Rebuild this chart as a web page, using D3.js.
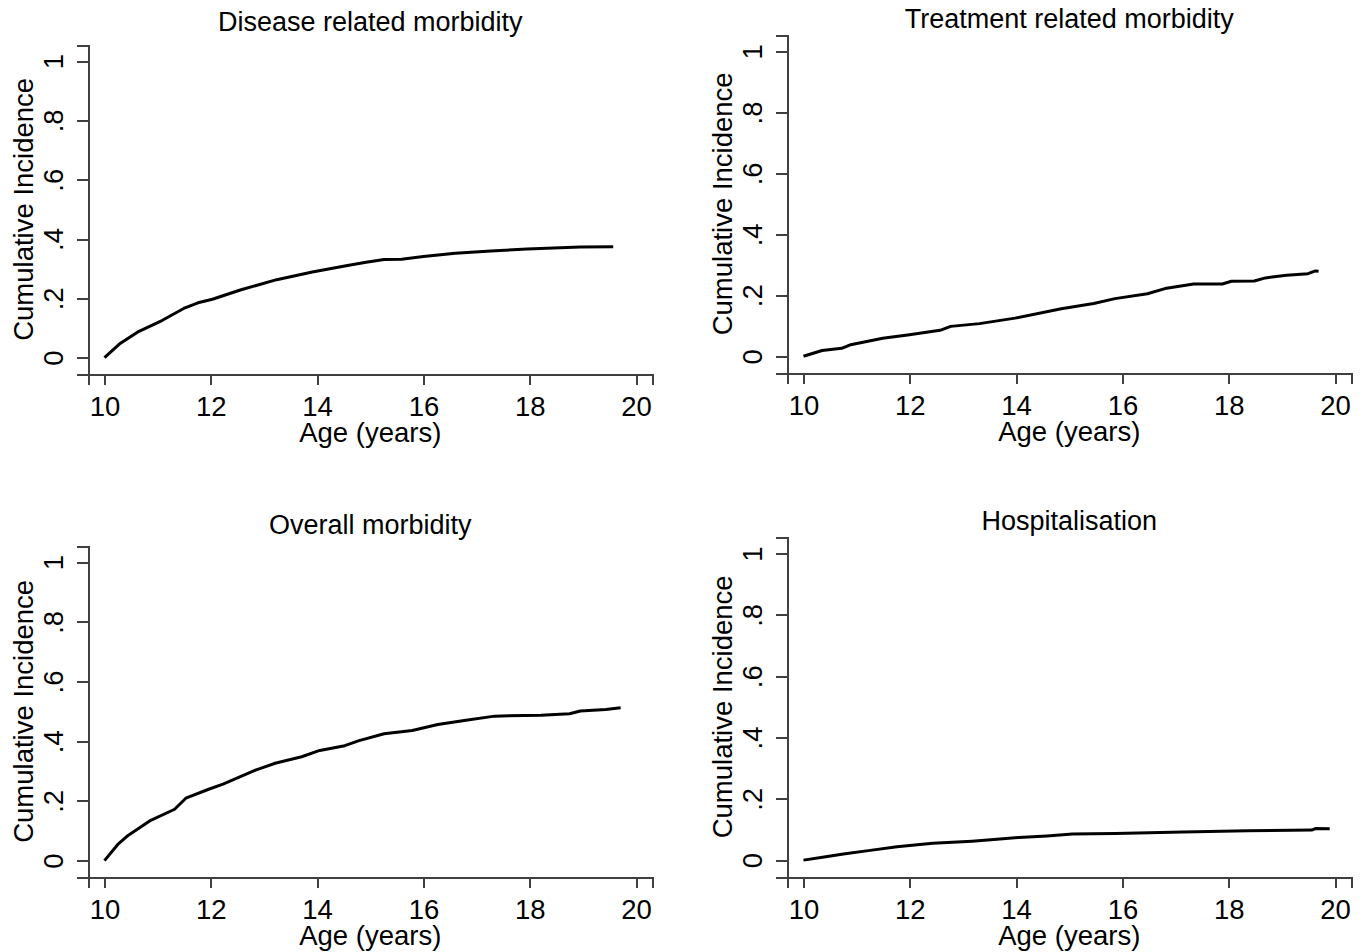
<!DOCTYPE html>
<html>
<head>
<meta charset="utf-8">
<script src="https://cdn.jsdelivr.net/npm/d3@7"></script>
<style>
  body { margin: 0; background: #fff; }
  text { font-family: "Liberation Sans", Arial, sans-serif; fill: #000; }
</style>
</head>
<body>
<div id="chart"></div>
<script>
// Panel titles
const panelTitles = ["Disease related morbidity", "Treatment related morbidity", "Overall morbidity", "Hospitalisation"];

// Axis ticks
const xTicks = [10, 12, 14, 16, 18, 20];
const yTicks = [0, 0.2, 0.4, 0.6, 0.8, 1];
const yTickLabels = ["0", ".2", ".4", ".6", ".8", "1"];

// Cumulative incidence (age in years, incidence)
const diseaseAge = [10, 10.28, 10.62, 11.09, 11.49, 11.76, 12.03, 12.57, 13.24, 13.91, 14.52, 14.92, 15.26, 15.59, 16.0, 16.6, 17.27, 17.95, 18.95, 19.57];
const diseaseCI = [0, 0.046, 0.086, 0.126, 0.166, 0.185, 0.197, 0.229, 0.263, 0.289, 0.309, 0.322, 0.331, 0.332, 0.341, 0.352, 0.36, 0.366, 0.373, 0.374];

const treatmentAge = [10, 10.35, 10.72, 10.89, 11.49, 11.96, 12.57, 12.77, 13.31, 13.98, 14.85, 15.46, 15.86, 16.47, 16.8, 17.34, 17.88, 18.05, 18.48, 18.69, 19.09, 19.49, 19.63, 19.69];
const treatmentCI = [0, 0.019, 0.026, 0.038, 0.059, 0.07, 0.085, 0.098, 0.107, 0.125, 0.156, 0.173, 0.189, 0.205, 0.222, 0.237, 0.237, 0.246, 0.247, 0.257, 0.266, 0.271, 0.28, 0.279];

const overallAge = [10, 10.25, 10.45, 10.85, 11.32, 11.53, 11.96, 12.23, 12.84, 13.21, 13.71, 14.05, 14.52, 14.79, 15.26, 15.79, 16.27, 16.8, 17.34, 18.21, 18.75, 18.95, 19.43, 19.71];
const overallCI = [0, 0.054, 0.085, 0.133, 0.172, 0.209, 0.239, 0.256, 0.303, 0.326, 0.348, 0.369, 0.385, 0.402, 0.425, 0.436, 0.456, 0.47, 0.484, 0.487, 0.492, 0.501, 0.506, 0.512];

const hospAge = [10, 10.42, 10.75, 11.22, 11.76, 12.43, 13.17, 13.64, 14.05, 14.58, 15.06, 15.86, 17.14, 18.35, 19.56, 19.63, 19.9];
const hospCI = [0, 0.011, 0.02, 0.031, 0.044, 0.055, 0.062, 0.068, 0.074, 0.079, 0.085, 0.087, 0.092, 0.096, 0.098, 0.103, 0.102];

const seriesAges = [diseaseAge, treatmentAge, overallAge, hospAge];
const seriesValues = [diseaseCI, treatmentCI, overallCI, hospCI];

// Layout: each panel's axis box in pixels, plus title baseline
const width = 1366, height = 952;
const panels = [
    { left: 88, right: 652, top: 45, bottom: 374, titleY: 31 },
    { left: 787, right: 1351, top: 35, bottom: 373, titleY: 28 },
    { left: 88, right: 652, top: 546, bottom: 877, titleY: 534 },
    { left: 787, right: 1351, top: 537, bottom: 877, titleY: 530 }
];

const fontSize = 27.5;
const axisColor = "#404040";

const svg = d3.select("#chart")
    .append("svg")
    .attr("width", width)
    .attr("height", height);

panels.forEach((p, i) => {
    // axis range is padded a little beyond the tick range, Stata style
    const xScale = d3.scaleLinear().domain([9.69, 20.3]).range([p.left, p.right]);
    const yScale = d3.scaleLinear().domain([-0.055, 1.054]).range([p.bottom, p.top]);

    const g = svg.append("g");

    // x-axis
    const xAxis = g.append("g")
        .attr("transform", `translate(0, ${p.bottom})`)
        .call(d3.axisBottom(xScale).tickValues(xTicks).tickSizeOuter(0).tickSize(11).tickFormat(d3.format("d")));
    xAxis.select(".domain").attr("stroke", axisColor).attr("stroke-width", 2);
    xAxis.selectAll(".tick line").attr("stroke", axisColor).attr("stroke-width", 2);
    xAxis.selectAll(".tick text")
        .attr("y", 42)
        .attr("dy", 0)
        .style("font-size", fontSize + "px");

    // y-axis with rotated tick labels
    const yAxis = g.append("g")
        .attr("transform", `translate(${p.left}, 0)`)
        .call(d3.axisLeft(yScale).tickValues(yTicks).tickSizeOuter(0).tickSize(11).tickFormat((d, j) => yTickLabels[j]));
    yAxis.select(".domain").attr("stroke", axisColor).attr("stroke-width", 2);
    yAxis.selectAll(".tick line").attr("stroke", axisColor).attr("stroke-width", 2);
    yAxis.selectAll(".tick text")
        .attr("transform", "rotate(-90)")
        .attr("x", 0)
        .attr("y", -25)
        .attr("dy", 0)
        .style("text-anchor", "middle")
        .style("font-size", fontSize + "px");
    g.selectAll(".domain, .tick line").attr("shape-rendering", "crispEdges");

    // axis titles
    g.append("text")
        .attr("x", (xScale(10) + xScale(20)) / 2)
        .attr("y", p.bottom + 68)
        .style("text-anchor", "middle")
        .style("font-size", fontSize + "px")
        .text("Age (years)");

    g.append("text")
        .attr("transform", "rotate(-90)")
        .attr("x", -(yScale(0) + yScale(1)) / 2)
        .attr("y", p.left - 55)
        .style("text-anchor", "middle")
        .style("font-size", fontSize + "px")
        .text("Cumulative Incidence");

    // panel title
    g.append("text")
        .attr("x", (xScale(10) + xScale(20)) / 2)
        .attr("y", p.titleY)
        .style("text-anchor", "middle")
        .style("font-size", "27px")
        .text(panelTitles[i]);

    // cumulative incidence curve
    const pts = seriesAges[i].map((a, j) => [a, seriesValues[i][j]]);
    const line = d3.line()
        .x(d => xScale(d[0]))
        .y(d => yScale(d[1]));

    g.append("path")
        .datum(pts)
        .attr("fill", "none")
        .attr("stroke", "#000")
        .attr("stroke-width", 3)
        .attr("stroke-linejoin", "round")
        .attr("d", line);
});
</script>
</body>
</html>
